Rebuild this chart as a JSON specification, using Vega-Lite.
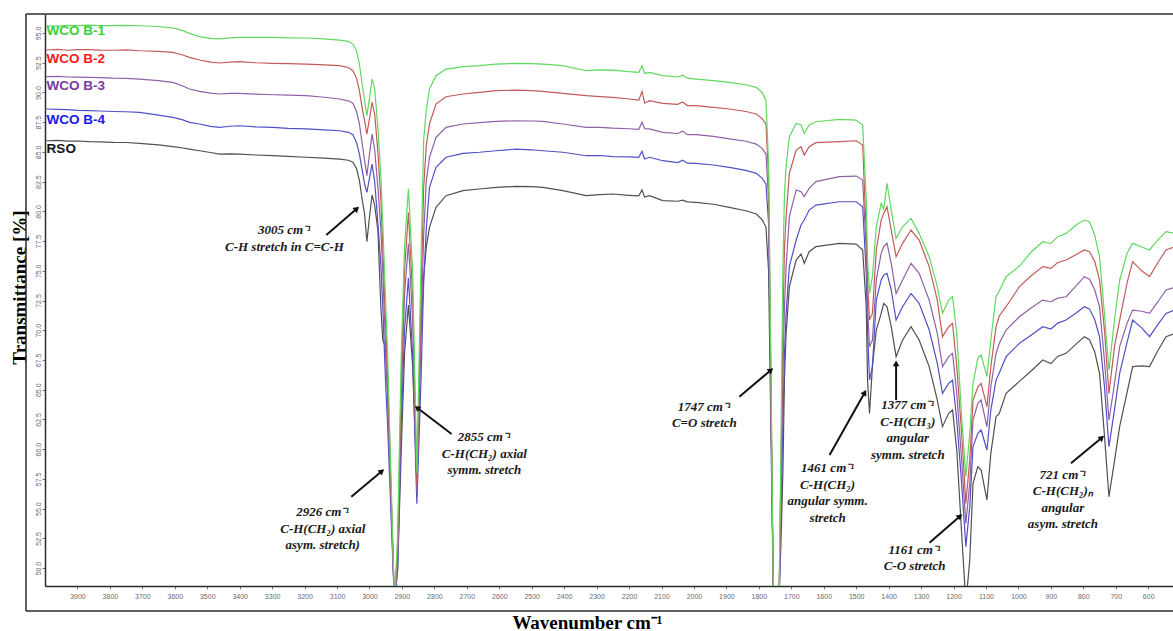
{
  "$schema": "https://vega.github.io/schema/vega-lite/v6.json",
  "width": 1160,
  "height": 572,
  "autosize": {"type": "none"},
  "padding": {"left": 45, "top": 14, "right": 0, "bottom": 45},
  "background": "white",
  "config": {
    "view": {"stroke": null},
    "axis": {"labelOverlap": false, "labelFlush": false}
  },
  "datasets": {
    "spectra": [
      {"wn":3996,"b1":95.61,"b2":93.57,"b3":91.33,"b4":88.61,"rso":85.94},
      {"wn":3960,"b1":95.58,"b2":93.62,"b3":91.36,"b4":88.58,"rso":85.97},
      {"wn":3930,"b1":95.65,"b2":93.55,"b3":91.3,"b4":88.55,"rso":85.9},
      {"wn":3900,"b1":95.62,"b2":93.61,"b3":91.29,"b4":88.5,"rso":85.92},
      {"wn":3863,"b1":95.67,"b2":93.6,"b3":91.27,"b4":88.47,"rso":85.86},
      {"wn":3830,"b1":95.63,"b2":93.56,"b3":91.25,"b4":88.44,"rso":85.84},
      {"wn":3790,"b1":95.62,"b2":93.55,"b3":91.2,"b4":88.4,"rso":85.8},
      {"wn":3750,"b1":95.64,"b2":93.58,"b3":91.18,"b4":88.38,"rso":85.79},
      {"wn":3709,"b1":95.61,"b2":93.51,"b3":91.13,"b4":88.33,"rso":85.72},
      {"wn":3650,"b1":95.55,"b2":93.45,"b3":91.0,"b4":88.1,"rso":85.6},
      {"wn":3606,"b1":95.42,"b2":93.37,"b3":90.85,"b4":87.91,"rso":85.44},
      {"wn":3575,"b1":95.2,"b2":93.15,"b3":90.55,"b4":87.7,"rso":85.33},
      {"wn":3555,"b1":94.97,"b2":92.95,"b3":90.29,"b4":87.49,"rso":85.24},
      {"wn":3524,"b1":94.69,"b2":92.73,"b3":90.09,"b4":87.35,"rso":85.1},
      {"wn":3490,"b1":94.55,"b2":92.55,"b3":89.95,"b4":87.15,"rso":84.95},
      {"wn":3462,"b1":94.5,"b2":92.48,"b3":89.87,"b4":87.07,"rso":84.82},
      {"wn":3430,"b1":94.6,"b2":92.56,"b3":89.92,"b4":87.16,"rso":84.84},
      {"wn":3401,"b1":94.64,"b2":92.59,"b3":89.93,"b4":87.2,"rso":84.82},
      {"wn":3350,"b1":94.64,"b2":92.5,"b3":89.86,"b4":87.1,"rso":84.74},
      {"wn":3298,"b1":94.64,"b2":92.45,"b3":89.81,"b4":87.07,"rso":84.68},
      {"wn":3250,"b1":94.6,"b2":92.42,"b3":89.77,"b4":86.98,"rso":84.62},
      {"wn":3195,"b1":94.58,"b2":92.39,"b3":89.73,"b4":86.93,"rso":84.55},
      {"wn":3140,"b1":94.5,"b2":92.32,"b3":89.6,"b4":86.85,"rso":84.48},
      {"wn":3092,"b1":94.41,"b2":92.25,"b3":89.45,"b4":86.78,"rso":84.4},
      {"wn":3065,"b1":94.3,"b2":92.1,"b3":89.3,"b4":86.65,"rso":84.3},
      {"wn":3051,"b1":94.07,"b2":91.83,"b3":89.09,"b4":86.45,"rso":84.13},
      {"wn":3040,"b1":93.5,"b2":91.2,"b3":88.4,"b4":85.8,"rso":83.6},
      {"wn":3031,"b1":92.39,"b2":90.15,"b3":87.35,"b4":84.82,"rso":82.58},
      {"wn":3022,"b1":90.6,"b2":88.6,"b3":85.6,"b4":83.4,"rso":80.9},
      {"wn":3015,"b1":89.31,"b2":87.62,"b3":84.26,"b4":82.3,"rso":79.78},
      {"wn":3008,"b1":88.05,"b2":86.5,"b3":83.0,"b4":81.6,"rso":77.45},
      {"wn":3000,"b1":89.5,"b2":87.8,"b3":84.8,"b4":82.8,"rso":79.5},
      {"wn":2992,"b1":91.13,"b2":89.17,"b3":86.5,"b4":83.98,"rso":81.38},
      {"wn":2984,"b1":90.3,"b2":88.2,"b3":85.2,"b4":82.5,"rso":80.5},
      {"wn":2974,"b1":87,"b2":85,"b3":82,"b4":79,"rso":78.4},
      {"wn":2965,"b1":83,"b2":81,"b3":78.5,"b4":75.5,"rso":72},
      {"wn":2959,"b1":79,"b2":77,"b3":75,"b4":72,"rso":69.2},
      {"wn":2951,"b1":73,"b2":71,"b3":69,"b4":66,"rso":68.6},
      {"wn":2944,"b1":68,"b2":66,"b3":64,"b4":62,"rso":65},
      {"wn":2933,"b1":57,"b2":56,"b3":55,"b4":54,"rso":56},
      {"wn":2923,"b1":47,"b2":47,"b3":47,"b4":47,"rso":47},
      {"wn":2913,"b1":53,"b2":52,"b3":51,"b4":50,"rso":50},
      {"wn":2902,"b1":68,"b2":66,"b3":64,"b4":62,"rso":60},
      {"wn":2892,"b1":77,"b2":75,"b3":73,"b4":70,"rso":68},
      {"wn":2880,"b1":81.9,"b2":79.9,"b3":77.3,"b4":74.4,"rso":72.12},
      {"wn":2867,"b1":75,"b2":73,"b3":71,"b4":68,"rso":67},
      {"wn":2854,"b1":58,"b2":57,"b3":56.5,"b4":55.4,"rso":57},
      {"wn":2841,"b1":76,"b2":73,"b3":70,"b4":66,"rso":70},
      {"wn":2833,"b1":86,"b2":82,"b3":78,"b4":74,"rso":74.5},
      {"wn":2825,"b1":88.5,"b2":85.5,"b3":82.5,"b4":78.5,"rso":77},
      {"wn":2815,"b1":90.29,"b2":87.35,"b3":84.55,"b4":82.02,"rso":78.66},
      {"wn":2795,"b1":91.41,"b2":89.03,"b3":86.23,"b4":83.7,"rso":80.34},
      {"wn":2764,"b1":91.97,"b2":89.64,"b3":87.07,"b4":84.55,"rso":81.32},
      {"wn":2712,"b1":92.17,"b2":89.87,"b3":87.35,"b4":84.88,"rso":81.74},
      {"wn":2661,"b1":92.25,"b2":90.01,"b3":87.46,"b4":84.97,"rso":81.88},
      {"wn":2610,"b1":92.39,"b2":90.15,"b3":87.57,"b4":85.1,"rso":82.02},
      {"wn":2548,"b1":92.45,"b2":90.2,"b3":87.62,"b4":85.24,"rso":82.1},
      {"wn":2500,"b1":92.42,"b2":90.15,"b3":87.6,"b4":85.18,"rso":82.08},
      {"wn":2466,"b1":92.39,"b2":90.09,"b3":87.57,"b4":85.1,"rso":82.02},
      {"wn":2404,"b1":92.25,"b2":89.93,"b3":87.35,"b4":84.97,"rso":81.74},
      {"wn":2332,"b1":91.83,"b2":89.73,"b3":87.07,"b4":84.68,"rso":81.32},
      {"wn":2290,"b1":91.9,"b2":89.65,"b3":87.07,"b4":84.7,"rso":81.4},
      {"wn":2250,"b1":91.88,"b2":89.59,"b3":87.0,"b4":84.6,"rso":81.46},
      {"wn":2200,"b1":91.75,"b2":89.45,"b3":86.95,"b4":84.58,"rso":81.35},
      {"wn":2170,"b1":91.7,"b2":89.35,"b3":86.9,"b4":84.55,"rso":81.3},
      {"wn":2160,"b1":92.25,"b2":90.1,"b3":87.49,"b4":85.05,"rso":81.8},
      {"wn":2152,"b1":91.6,"b2":89.1,"b3":86.95,"b4":84.4,"rso":81.2},
      {"wn":2137,"b1":91.69,"b2":89.31,"b3":86.93,"b4":84.55,"rso":81.32},
      {"wn":2096,"b1":91.41,"b2":89.09,"b3":86.65,"b4":84.26,"rso":80.9},
      {"wn":2050,"b1":91.3,"b2":89.0,"b3":86.55,"b4":84.1,"rso":80.85},
      {"wn":2035,"b1":91.45,"b2":89.2,"b3":86.75,"b4":84.3,"rso":80.95},
      {"wn":2020,"b1":91.2,"b2":88.9,"b3":86.45,"b4":84.05,"rso":80.8},
      {"wn":1993,"b1":91.13,"b2":88.89,"b3":86.45,"b4":84.04,"rso":80.76},
      {"wn":1940,"b1":91.0,"b2":88.75,"b3":86.3,"b4":83.9,"rso":80.6},
      {"wn":1891,"b1":90.85,"b2":88.61,"b3":86.09,"b4":83.7,"rso":80.34},
      {"wn":1840,"b1":90.65,"b2":88.4,"b3":85.9,"b4":83.45,"rso":80.05},
      {"wn":1808,"b1":90.43,"b2":88.19,"b3":85.66,"b4":83.2,"rso":79.78},
      {"wn":1790,"b1":90.0,"b2":87.8,"b3":85.3,"b4":82.8,"rso":79.3},
      {"wn":1778,"b1":89.31,"b2":87.35,"b3":84.82,"b4":82.3,"rso":78.66},
      {"wn":1770,"b1":84,"b2":83,"b3":81,"b4":79,"rso":75},
      {"wn":1762,"b1":65,"b2":64,"b3":63,"b4":62,"rso":60},
      {"wn":1755,"b1":47,"b2":47,"b3":47,"b4":47,"rso":47},
      {"wn":1738,"b1":47,"b2":47,"b3":47,"b4":47,"rso":47},
      {"wn":1732,"b1":60,"b2":58,"b3":56,"b4":54,"rso":52},
      {"wn":1726,"b1":75,"b2":70,"b3":66,"b4":62,"rso":58},
      {"wn":1721,"b1":81.5,"b2":77,"b3":72,"b4":68,"rso":66},
      {"wn":1716,"b1":83.76,"b2":79.55,"b3":75.35,"b4":71.42,"rso":69.74},
      {"wn":1706,"b1":86.28,"b2":83.2,"b3":79.55,"b4":75.35,"rso":73.67},
      {"wn":1685,"b1":87.4,"b2":85.16,"b3":81.8,"b4":77.59,"rso":75.9},
      {"wn":1670,"b1":87.26,"b2":85.44,"b3":81.66,"b4":78.85,"rso":76.41},
      {"wn":1660,"b1":86.56,"b2":84.74,"b3":81.24,"b4":79.27,"rso":75.63},
      {"wn":1645,"b1":87.26,"b2":85.44,"b3":81.94,"b4":80.11,"rso":76.61},
      {"wn":1624,"b1":87.54,"b2":85.78,"b3":82.5,"b4":80.53,"rso":77.03},
      {"wn":1552,"b1":87.74,"b2":85.86,"b3":82.92,"b4":80.81,"rso":77.31},
      {"wn":1500,"b1":87.68,"b2":85.94,"b3":82.97,"b4":80.81,"rso":77.25},
      {"wn":1480,"b1":87.26,"b2":85.58,"b3":82.64,"b4":80.39,"rso":76.75},
      {"wn":1469,"b1":80.95,"b2":78.15,"b3":76.75,"b4":74.79,"rso":71.98},
      {"wn":1465,"b1":76,"b2":74,"b3":72,"b4":70,"rso":65.81},
      {"wn":1459,"b1":73.1,"b2":70.86,"b3":68.62,"b4":65.81,"rso":63.01},
      {"wn":1450,"b1":74.5,"b2":71.42,"b3":69.18,"b4":66.94,"rso":66.94},
      {"wn":1438,"b1":78.7,"b2":76.75,"b3":74.23,"b4":72.54,"rso":70.02},
      {"wn":1423,"b1":80.67,"b2":79.27,"b3":76.47,"b4":74.23,"rso":71.42},
      {"wn":1415,"b1":80.2,"b2":79.83,"b3":77.03,"b4":74.65,"rso":72.26},
      {"wn":1405,"b1":82.36,"b2":80.39,"b3":77.31,"b4":74.79,"rso":71.98},
      {"wn":1392,"b1":80.1,"b2":78.43,"b3":75.63,"b4":73.39,"rso":70.3},
      {"wn":1377,"b1":77.73,"b2":76.19,"b3":73.1,"b4":70.86,"rso":67.78},
      {"wn":1357,"b1":78.7,"b2":77.31,"b3":74.23,"b4":71.98,"rso":69.18},
      {"wn":1331,"b1":79.41,"b2":78.43,"b3":75.63,"b4":73.1,"rso":70.3},
      {"wn":1306,"b1":78.15,"b2":77.59,"b3":74.79,"b4":72.26,"rso":69.18},
      {"wn":1275,"b1":76.19,"b2":75.35,"b3":72.54,"b4":70.02,"rso":66.94},
      {"wn":1250,"b1":73.67,"b2":72.54,"b3":69.74,"b4":67.22,"rso":64.13},
      {"wn":1234,"b1":71.42,"b2":69.46,"b3":66.94,"b4":64.69,"rso":61.89},
      {"wn":1215,"b1":72.54,"b2":70.3,"b3":67.78,"b4":65.53,"rso":63.01},
      {"wn":1203,"b1":72.82,"b2":70.58,"b3":68.06,"b4":65.81,"rso":63.29},
      {"wn":1190,"b1":69.74,"b2":66.94,"b3":64.69,"b4":62.45,"rso":59.93},
      {"wn":1175,"b1":62.73,"b2":61.33,"b3":59.09,"b4":57.13,"rso":52.92},
      {"wn":1162,"b1":57.68,"b2":55.44,"b3":53.76,"b4":51.8,"rso":47},
      {"wn":1150,"b1":61.33,"b2":59.09,"b3":57.13,"b4":55.16,"rso":50.68},
      {"wn":1140,"b1":65.5,"b2":64.1,"b3":62.45,"b4":60.21,"rso":57.13},
      {"wn":1125,"b1":67.64,"b2":65.25,"b3":63.85,"b4":61.33,"rso":58.53},
      {"wn":1115,"b1":67.92,"b2":65.53,"b3":64.13,"b4":61.61,"rso":58.25},
      {"wn":1097,"b1":66.1,"b2":63.57,"b3":61.89,"b4":59.93,"rso":55.72},
      {"wn":1085,"b1":69.18,"b2":66.94,"b3":65.25,"b4":63.29,"rso":59.65},
      {"wn":1069,"b1":72.82,"b2":70.3,"b3":68.06,"b4":65.81,"rso":62.73},
      {"wn":1059,"b1":73.3,"b2":71.2,"b3":68.9,"b4":66.4,"rso":63.0},
      {"wn":1038,"b1":74.5,"b2":71.98,"b3":70.02,"b4":67.78,"rso":64.69},
      {"wn":997,"b1":75.4,"b2":73.67,"b3":71.14,"b4":68.9,"rso":65.7},
      {"wn":960,"b1":76.6,"b2":74.6,"b3":71.9,"b4":69.6,"rso":66.6},
      {"wn":925,"b1":77.45,"b2":75.35,"b3":72.54,"b4":70.3,"rso":67.5},
      {"wn":900,"b1":77.3,"b2":75.2,"b3":72.4,"b4":70.1,"rso":67.2},
      {"wn":879,"b1":77.87,"b2":75.7,"b3":72.7,"b4":70.6,"rso":67.8},
      {"wn":853,"b1":78.15,"b2":75.91,"b3":72.82,"b4":70.86,"rso":68.06},
      {"wn":820,"b1":78.9,"b2":76.4,"b3":73.8,"b4":71.5,"rso":68.9},
      {"wn":797,"b1":79.27,"b2":76.75,"b3":74.51,"b4":71.98,"rso":69.46},
      {"wn":781,"b1":79.13,"b2":76.6,"b3":74.3,"b4":71.8,"rso":69.2},
      {"wn":765,"b1":78.0,"b2":75.8,"b3":73.4,"b4":70.9,"rso":68.2},
      {"wn":750,"b1":76.19,"b2":74.23,"b3":71.98,"b4":69.46,"rso":66.38},
      {"wn":735,"b1":71.42,"b2":70.02,"b3":67.5,"b4":65.3,"rso":61.2},
      {"wn":721,"b1":66.66,"b2":64.69,"b3":62.45,"b4":60.21,"rso":56.0},
      {"wn":704,"b1":70.86,"b2":68.62,"b3":65.5,"b4":63.3,"rso":59.0},
      {"wn":688,"b1":74.23,"b2":70.86,"b3":68.62,"b4":66.38,"rso":61.89},
      {"wn":665,"b1":76.5,"b2":74.0,"b3":70.6,"b4":69.0,"rso":64.8},
      {"wn":648,"b1":77.31,"b2":75.77,"b3":71.7,"b4":70.86,"rso":66.94},
      {"wn":620,"b1":77.0,"b2":75.0,"b3":71.6,"b4":70.2,"rso":67.0},
      {"wn":596,"b1":76.75,"b2":74.51,"b3":71.42,"b4":69.46,"rso":66.94},
      {"wn":570,"b1":77.6,"b2":75.7,"b3":72.4,"b4":70.5,"rso":68.3},
      {"wn":545,"b1":78.29,"b2":76.75,"b3":73.39,"b4":71.42,"rso":69.46},
      {"wn":520,"b1":78.15,"b2":77.0,"b3":73.6,"b4":71.7,"rso":69.7}
    ],
    "keys": [
      {"series":"WCO B-1","wn":3995,"t":95.19},
      {"series":"WCO B-2","wn":3995,"t":92.81},
      {"series":"WCO B-3","wn":3995,"t":90.57},
      {"series":"WCO B-4","wn":3995,"t":87.68},
      {"series":"RSO","wn":3995,"t":85.24}
    ],
    "notes": [
      {"label":"3005 cm⁻¹\nC-H stretch in C=C-H","tx":3262,"ty":78.43,"ax":3133,"ay":78.01,"bx":3041,"by":80.17,"ang":49},
      {"label":"2926 cm⁻¹\nC-H(CH₂) axial\nasym. stretch)","tx":3144,"ty":54.71,"ax":3056,"ay":56.0,"bx":2964,"by":58.1,"ang":50},
      {"label":"2855 cm⁻¹\nC-H(CH₂) axial\nsymm. stretch","tx":2646,"ty":61.02,"ax":2747,"ay":61.27,"bx":2851,"by":63.44,"ang":307},
      {"label":"1747 cm⁻¹\nC=O stretch","tx":1968,"ty":63.57,"ax":1860,"ay":64.41,"bx":1765,"by":66.6,"ang":50},
      {"label":"1461 cm⁻¹\nC-H(CH₂)\nangular symm.\nstretch","tx":1588,"ty":58.39,"ax":1582,"ay":59.51,"bx":1475,"by":64.7,"ang":30},
      {"label":"1377 cm⁻¹\nC-H(CH₃)\nangular\nsymm. stretch","tx":1341,"ty":63.71,"ax":1377,"ay":64.13,"bx":1377,"by":67.13,"ang":0},
      {"label":"1161 cm⁻¹\nC-O stretch","tx":1320,"ty":51.52,"ax":1274,"ay":52.13,"bx":1182,"by":54.32,"ang":49},
      {"label":"721 cm⁻¹\nC-H(CH₂)ₙ\nangular\nasym. stretch","tx":863,"ty":57.83,"ax":838,"ay":58.81,"bx":745,"by":60.91,"ang":50}
    ]
  },
  "layer": [
    {
      "data": {"name": "spectra"},
      "transform": [{"fold": ["rso", "b4", "b3", "b2", "b1"], "as": ["series", "t"]}],
      "mark": {"type": "line", "clip": true, "strokeWidth": 1.2},
      "encoding": {
        "x": {
          "field": "wn", "type": "quantitative",
          "scale": {"domain": [4000, 425], "zero": false, "nice": false},
          "axis": {
            "title": "Wavenumber cm⁻¹",
            "titleFont": "Liberation Serif", "titleFontSize": 19, "titleFontWeight": "bold", "titleColor": "#000",
            "titleX": 542, "titleY": 42, "titleAlign": "center", "titleBaseline": "alphabetic",
            "values": [3900,3800,3700,3600,3500,3400,3300,3200,3100,3000,2900,2800,2700,2600,2500,2400,2300,2200,2100,2000,1900,1800,1700,1600,1500,1400,1300,1200,1100,1000,900,800,700,600],
            "tickCount": 200,
            "format": "d", "grid": false,
            "labelFont": "Liberation Sans", "labelFontSize": 7, "labelColor": "#6a6a6a", "labelPadding": 3,
            "labelOverlap": false,
            "tickSize": 3, "tickColor": "#777", "domainColor": "#2b2b2b", "domainWidth": 1.5
          }
        },
        "y": {
          "field": "t", "type": "quantitative",
          "scale": {"domain": [48.49, 96.6], "zero": false, "nice": false},
          "axis": {
            "title": "Transmittance [%]",
            "titleFont": "Liberation Serif", "titleFontSize": 19, "titleFontWeight": "bold", "titleColor": "#000",
            "titleAngle": 270, "titleX": -20, "titleY": 273, "titleAlign": "center", "titleBaseline": "alphabetic",
            "values": [50,52.5,55,57.5,60,62.5,65,67.5,70,72.5,75,77.5,80,82.5,85,87.5,90,92.5,95],
            "tickCount": 200,
            "format": ".1f", "grid": false,
            "labelFont": "Liberation Sans", "labelFontSize": 7, "labelColor": "#6a6a6a",
            "labelAngle": 270, "labelAlign": "center", "labelBaseline": "bottom", "labelPadding": 1,
            "labelOverlap": false,
            "tickSize": 3, "tickColor": "#777", "domainColor": "#2b2b2b", "domainWidth": 1.5
          }
        },
        "color": {
          "field": "series", "type": "nominal",
          "scale": {"domain": ["b1", "b2", "b3", "b4", "rso"], "range": ["#5fd95f", "#c45a5a", "#9060a8", "#5050c8", "#505050"]},
          "legend": null
        },
        "detail": {"field": "series"}
      }
    },
    {
      "data": {"values": [{}]},
      "mark": {"type": "rule", "color": "#2b2b2b", "strokeWidth": 1.5},
      "encoding": {
        "x": {"datum": 4058.6, "type": "quantitative"},
        "y": {"datum": 96.6, "type": "quantitative"},
        "y2": {"datum": 46.39}
      }
    },
    {
      "data": {"values": [{}]},
      "mark": {"type": "rule", "color": "#2b2b2b", "strokeWidth": 1.5},
      "encoding": {
        "x": {"datum": 4058.6, "type": "quantitative"},
        "x2": {"datum": 425},
        "y": {"datum": 96.6, "type": "quantitative"}
      }
    },
    {
      "data": {"values": [{}]},
      "mark": {"type": "rule", "color": "#2b2b2b", "strokeWidth": 1.5},
      "encoding": {
        "x": {"datum": 4058.6, "type": "quantitative"},
        "x2": {"datum": 425},
        "y": {"datum": 46.39, "type": "quantitative"}
      }
    },
    {
      "data": {"name": "keys"},
      "mark": {"type": "text", "align": "left", "baseline": "middle", "font": "Liberation Sans", "fontWeight": "bold", "fontSize": 13.5},
      "encoding": {
        "x": {"field": "wn", "type": "quantitative"},
        "y": {"field": "t", "type": "quantitative"},
        "text": {"field": "series"},
        "color": {
          "field": "series", "type": "nominal",
          "scale": {"domain": ["WCO B-1", "WCO B-2", "WCO B-3", "WCO B-4", "RSO"], "range": ["#3ccf3c", "#ff1a1a", "#7a3aa0", "#1a1ae6", "#111111"]},
          "legend": null
        }
      }
    },
    {
      "data": {"name": "notes"},
      "mark": {"type": "text", "align": "center", "baseline": "middle", "font": "Liberation Serif", "fontStyle": "italic", "fontWeight": "bold", "fontSize": 13, "lineBreak": "\n", "lineHeight": 16.5, "color": "#1a1a1a"},
      "encoding": {
        "x": {"field": "tx", "type": "quantitative"},
        "y": {"field": "ty", "type": "quantitative"},
        "text": {"field": "label"}
      }
    },
    {
      "data": {"name": "notes"},
      "mark": {"type": "rule", "color": "#111", "strokeWidth": 2},
      "encoding": {
        "x": {"field": "ax", "type": "quantitative"},
        "y": {"field": "ay", "type": "quantitative"},
        "x2": {"field": "bx"},
        "y2": {"field": "by"}
      }
    },
    {
      "data": {"name": "notes"},
      "mark": {"type": "point", "shape": "triangle", "filled": true, "color": "#111", "size": 45, "opacity": 1},
      "encoding": {
        "x": {"field": "bx", "type": "quantitative"},
        "y": {"field": "by", "type": "quantitative"},
        "angle": {"field": "ang", "type": "quantitative", "scale": null}
      }
    }
  ],
  "resolve": {"scale": {"color": "independent"}}
}
